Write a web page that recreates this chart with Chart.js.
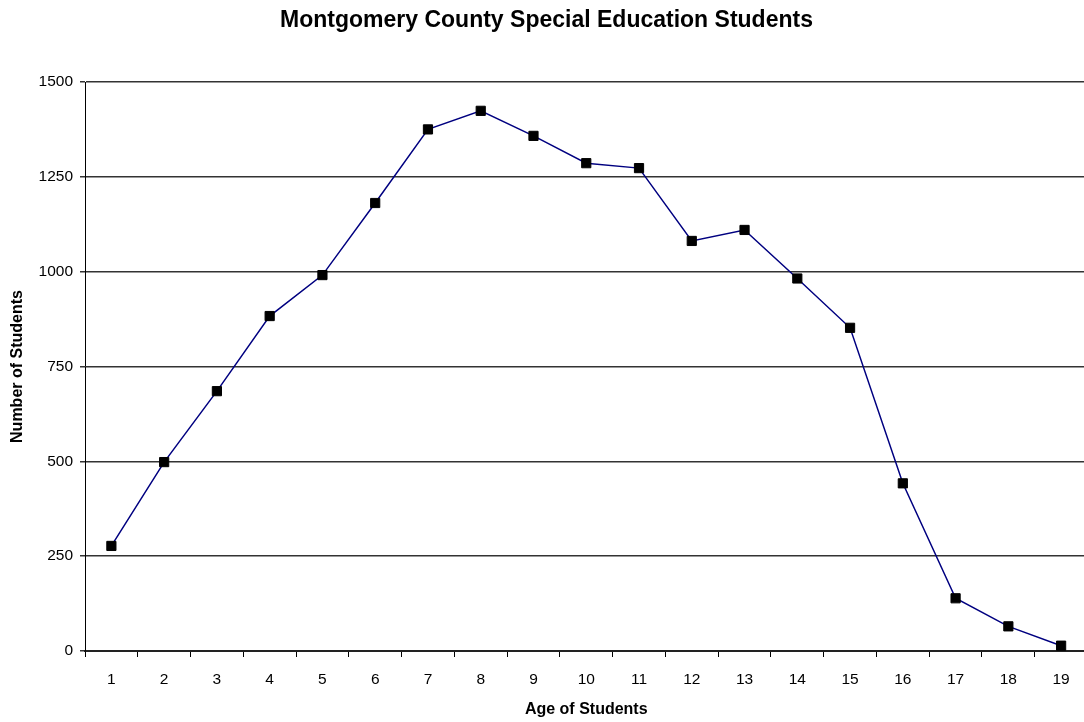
<!DOCTYPE html>
<html>
<head>
<meta charset="utf-8">
<script src="https://cdn.jsdelivr.net/npm/chart.js@4.4.1/dist/chart.umd.min.js"></script>
<style>
  html, body { margin: 0; padding: 0; background: #fff; overflow: hidden; }
  #wrap { width: 1095px; height: 722px; }
</style>
</head>
<body>
<div id="wrap"><canvas id="c" width="1095" height="722"></canvas></div>
<script>
const ages = ['1','2','3','4','5','6','7','8','9','10','11','12','13','14','15','16','17','18','19'];
const students = [277, 498, 685, 883, 991, 1181, 1375, 1424, 1358, 1286, 1273, 1081, 1110, 982, 852, 442, 139, 65, 14];
const yTicks = [0, 250, 500, 750, 1000, 1250, 1500];

const FONT = '"Liberation Sans", Arial, Helvetica, sans-serif';

new Chart(document.getElementById('c'), {
  type: 'line',
  data: {
    labels: ages,
    datasets: [{
      label: 'Students',
      data: students,
      borderColor: '#000080',
      borderWidth: 1.5,
      tension: 0,
      fill: false,
      pointStyle: 'rect',
      pointRadius: 6.5,
      pointBackgroundColor: '#000',
      pointBorderColor: '#000',
      pointBorderWidth: 1
    }]
  },
  options: {
    responsive: false,
    animation: false,
    devicePixelRatio: 1,
    layout: { padding: { left: 0, right: 2, top: 0, bottom: 0 } },
    plugins: {
      legend: { display: false },
      tooltip: { enabled: false },
      title: {
        display: true,
        text: 'Montgomery County Special Education Students',
        color: '#000',
        font: { family: FONT, size: 23, weight: 'bold' },
        padding: { top: 7, bottom: 47.4 }
      }
    },
    scales: {
      x: {
        type: 'category',
        offset: true,
        afterFit: s => { s.height = 71; },
        border: { display: true, color: '#222', width: 2 },
        grid: { display: true, offset: true, drawOnChartArea: false, drawTicks: true, tickLength: 6, color: '#000', lineWidth: 1 },
        ticks: { color: '#000', font: { family: FONT, size: 15.5 }, padding: 13, maxRotation: 0, autoSkip: false },
        title: { display: true, text: 'Age of Students', color: '#000', font: { family: FONT, size: 16, weight: 'bold' }, padding: { top: 0, bottom: 3 } }
      },
      y: {
        min: 0,
        max: 1500,
        afterFit: s => { s.width = 85; },
        afterBuildTicks: s => { s.ticks = yTicks.map(v => ({ value: v })); },
        border: { display: true, color: '#000', width: 1 },
        grid: { color: '#333', lineWidth: 1.5, drawTicks: true, tickLength: 5 },
        ticks: { color: '#000', font: { family: FONT, size: 15.5 }, padding: 7, callback: v => String(v) },
        title: { display: true, text: 'Number of Students', color: '#000', font: { family: FONT, size: 16, weight: 'bold' }, padding: { top: 8, bottom: 0 } }
      }
    }
  }
});
</script>
</body>
</html>
